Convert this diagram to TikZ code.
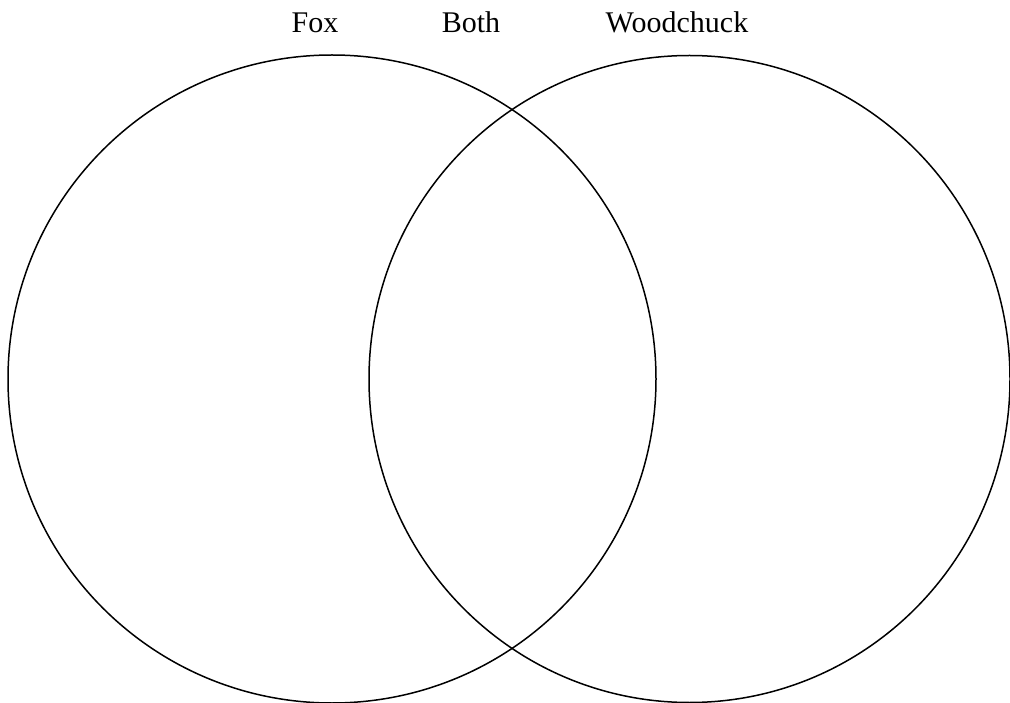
\documentclass[tikz,border=0pt]{standalone}
\usepackage{fontspec}
\setmainfont{Liberation Serif}
\usepackage{tikz}
\usetikzlibrary{shapes.geometric}

\begin{document}
\begin{tikzpicture}[x=1pt,y=-1pt,line width=1.5pt,
    setcircle/.style={ellipse, draw, inner sep=0pt, minimum width=648pt, minimum height=648pt},
    heading/.style={anchor=base, inner sep=0pt, font=\fontsize{30}{36}\selectfont}]
                        \useasboundingbox (0,0) rectangle (1010,703);

                        % Circles
                        \node[setcircle] (fox) at (332,379) {};
                        \node[setcircle, minimum width=641pt, minimum height=647pt] (woodchuck) at (689.5,379) {};

                        % Labels
                        \node[heading] (foxlabel) at (315,33) {Fox};
                        \node[heading] (bothlabel) at (471,33) {Both};
                        \node[heading] (woodchucklabel) at (677,33) {Woodchuck};
                    \end{tikzpicture}
\end{document}
